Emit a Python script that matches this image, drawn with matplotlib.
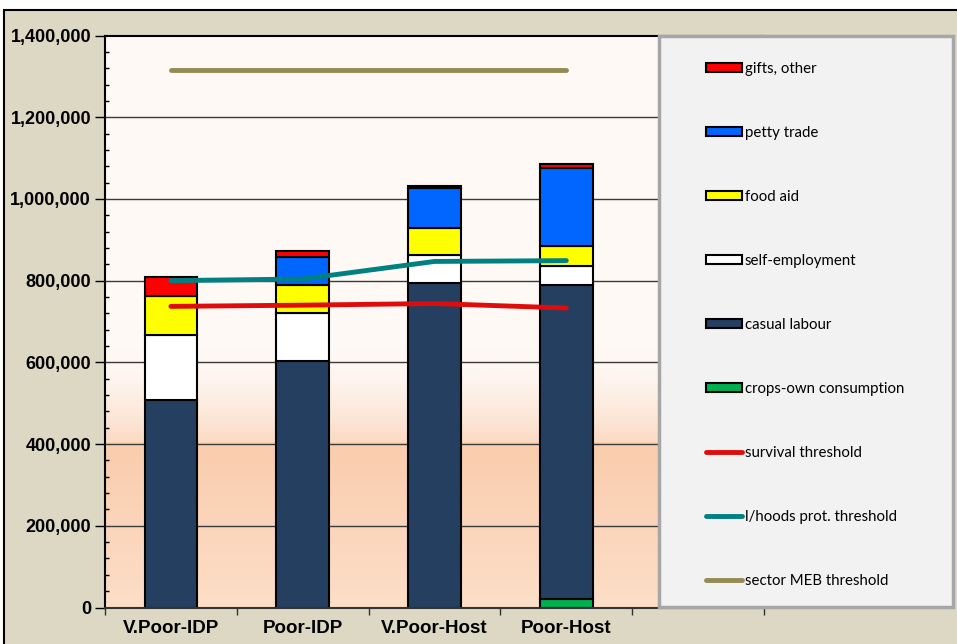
import numpy as np
import matplotlib
matplotlib.use("Agg")
import matplotlib.pyplot as plt
from matplotlib.patches import Rectangle
from matplotlib.colors import LinearSegmentedColormap
from matplotlib.ticker import FuncFormatter, MultipleLocator

# groups on the x axis
groups = ["V.Poor-IDP", "Poor-IDP", "V.Poor-Host", "Poor-Host"]

# income sources (stacked from bottom up)
crops_own = [0, 0, 0, 20000]
casual_labour = [508000, 603000, 794000, 769000]
self_employment = [159000, 117000, 69000, 48000]
food_aid = [95000, 69000, 65000, 47000]
petty_trade = [0, 69000, 98000, 191000]
gifts_other = [47000, 15000, 5000, 10000]

# thresholds
survival = [737000, 740000, 744000, 733000]
lhoods_prot = [800000, 804000, 847000, 849000]
sector_meb = [1315000, 1315000, 1315000, 1315000]

stack_names = ["crops-own consumption", "casual labour", "self-employment",
               "food aid", "petty trade", "gifts, other"]
stack_vals = [crops_own, casual_labour, self_employment, food_aid, petty_trade, gifts_other]
stack_cols = ["#00B050", "#243F60", "#FFFFFF", "#FFFF00", "#0066FF", "#FF0000"]

plt.rcParams['font.family'] = ['Liberation Sans', 'DejaVu Sans']

W, H = 957, 644
fig = plt.figure(figsize=(W / 100, H / 100), dpi=100)
fig.patch.set_facecolor("white")

# beige chart area with black border
fig.add_artist(Rectangle((4 / W, -0.01), 1.0, 1 - 10 / H + 0.01, transform=fig.transFigure,
                         facecolor="#DDD8C3", edgecolor="black", linewidth=1.5, zorder=-5))

ax = fig.add_axes([105 / W, 1 - 607.5 / H, (764 - 105) / W, (607.5 - 35.5) / H])
ax.set_xlim(-0.5, 4.5)
ax.set_ylim(0, 1400000)

# background gradient of the plot area
stops = [(0.0, "#FDDEC7"), (0.14, "#FBD5BB"), (0.285, "#F9CDAD"), (0.29, "#FBDAC3"),
         (0.33, "#FCE6D6"), (0.40, "#FEF5EE"), (0.45, "#FEF9F5"), (1.0, "#FFFAF6")]
cmap = LinearSegmentedColormap.from_list("bg", stops)
grad = np.linspace(0, 1, 500).reshape(-1, 1)
ax.imshow(grad, cmap=cmap, aspect="auto", origin="lower",
          extent=[-0.5, 4.5, 0, 1400000], zorder=0)

for v in range(200000, 1400000, 200000):
    ax.axhline(v, color="#3a3a3a", linewidth=1.0, zorder=1)

x = np.arange(len(groups))
bottom = np.zeros(len(groups))
handles = {}
for name, vals, col in zip(stack_names, stack_vals, stack_cols):
    vals = np.array(vals)
    b = ax.bar(x, vals, 0.4, bottom=bottom, color=col, edgecolor="black",
               linewidth=1.5, zorder=2, label=name)
    handles[name] = b
    bottom = bottom + vals

l1, = ax.plot(x, survival, color="#E00B0B", linewidth=3.5, solid_capstyle="round", zorder=3)
l2, = ax.plot(x, lhoods_prot, color="#008080", linewidth=3.5, solid_capstyle="round", zorder=3)
l3, = ax.plot(x, sector_meb, color="#948A54", linewidth=3.5, solid_capstyle="round", zorder=3)

# axes styling
for s in ["left", "top"]:
    ax.spines[s].set_color("black")
    ax.spines[s].set_linewidth(1.5)
ax.spines["bottom"].set_color("#333333")
ax.spines["bottom"].set_linewidth(1.5)
ax.spines["right"].set_visible(False)

ax.set_xticks(x)
ax.set_xticklabels(groups, fontsize=13.5, fontweight="bold")
ax.tick_params(axis="x", which="major", length=0, pad=9)
ax.set_xticks(np.arange(-0.5, 5, 1.0), minor=True)
ax.tick_params(axis="x", which="minor", length=5, direction="out", width=1, color="#333333")

ax.yaxis.set_major_locator(MultipleLocator(200000))
ax.yaxis.set_minor_locator(MultipleLocator(40000))
ax.yaxis.set_major_formatter(FuncFormatter(lambda v, p: f"{int(v):,}"))
ax.tick_params(axis="y", which="major", length=7, direction="out", width=1, pad=3,
               labelsize=13)
ax.tick_params(axis="y", which="minor", length=3, direction="in", width=1)
for t in ax.get_yticklabels():
    t.set_fontweight("bold")

# legend box
fig.add_artist(Rectangle((659 / W, 1 - 607 / H), (953 - 659) / W, (607 - 36) / H,
                         transform=fig.transFigure, facecolor="#F2F2F2",
                         edgecolor="#A6A6A6", linewidth=2.5, zorder=4))

leg_handles = [handles["gifts, other"], handles["petty trade"], handles["food aid"],
               handles["self-employment"], handles["casual labour"],
               handles["crops-own consumption"], l1, l2, l3]
leg_labels = ["gifts, other", "petty trade", "food aid", "self-employment", "casual labour",
              "crops-own consumption", "survival threshold", "l/hoods prot. threshold",
              "sector MEB threshold"]
leg = fig.legend(leg_handles, leg_labels, loc="upper left",
                 bbox_to_anchor=(706 / W, 1 - 62 / H), bbox_transform=fig.transFigure,
                 frameon=False, borderpad=0, borderaxespad=0, handlelength=2.4,
                 handleheight=0.55, handletextpad=0.2, labelspacing=3.33,
                 prop={"family": "Lato", "size": 10.8})
leg.set_zorder(6)

fig.savefig("out.png", dpi=100)
